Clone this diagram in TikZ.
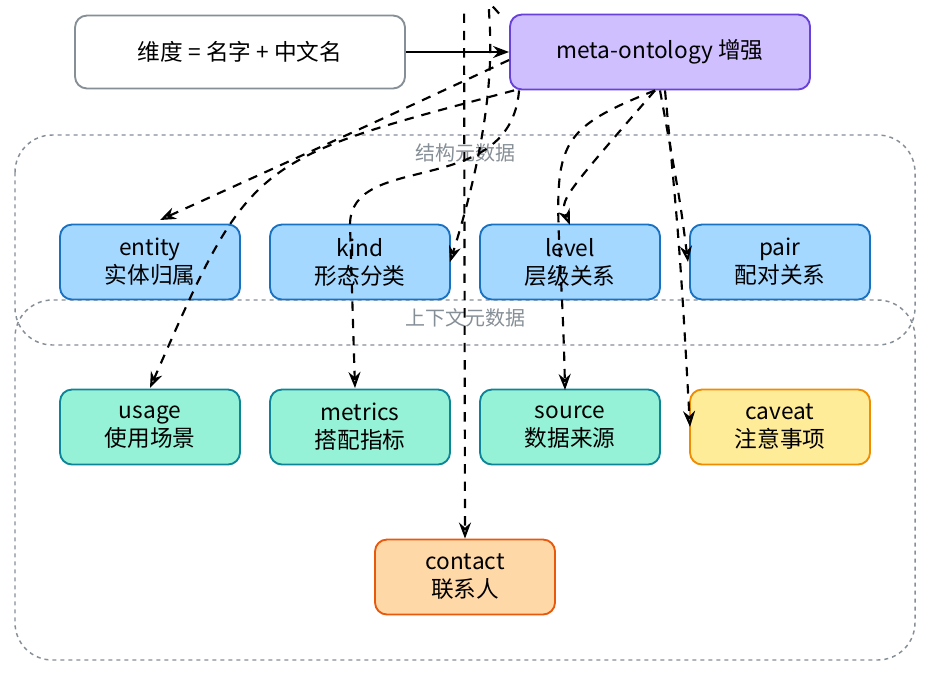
\documentclass[tikz,border=0pt]{standalone}
\usepackage{fontspec}
\setmainfont{Noto Sans CJK SC}
\usetikzlibrary{arrows.meta}
\definecolor{bluef}{HTML}{A5D8FF}\definecolor{bluel}{HTML}{1971C2}
\definecolor{tealf}{HTML}{96F2D7}\definecolor{teall}{HTML}{0C8599}
\definecolor{yelf}{HTML}{FFEC99}\definecolor{yell}{HTML}{F08C00}
\definecolor{oraf}{HTML}{FFD8A8}\definecolor{oral}{HTML}{E8590C}
\definecolor{purf}{HTML}{D0BFFF}\definecolor{purl}{HTML}{6741D9}
\definecolor{grp}{HTML}{868E96}
\tikzset{
 box/.style={rounded corners=9pt,line width=1.4pt,minimum width=180\pgflinewidth,align=center,font=\fontsize{17}{21}\selectfont,inner sep=0pt},
 bb/.style={box,fill=bluef,draw=bluel},
 tb/.style={box,fill=tealf,draw=teall},
 grpbox/.style={draw=grp,dashed,line width=1.1pt,rounded corners=28pt},
 glabel/.style={text=grp,font=\fontsize{15}{18}\selectfont},
 darr/.style={-{Stealth[length=12pt,width=9pt,open]},line width=1.6pt,dashed,dash pattern=on 7pt off 6pt},
}
\begin{document}
\begin{tikzpicture}[x=0.75pt,y=-0.75pt]
\useasboundingbox (0,0) rectangle (930,675);
\draw[grpbox] (15,135) rectangle (915,345);
\draw[grpbox] (15,300) rectangle (915,660);
\node[glabel] (g1) at (465,153) {结构元数据};
\node[glabel] (g2) at (465,318) {上下文元数据};
\tikzset{sz/.style={minimum width=180*0.75pt,minimum height=75*0.75pt}}
\node[box,sz,fill=white,draw=grp,minimum width=330*0.75pt,minimum height=73*0.75pt] (dim) at (240,52) {维度 = 名字 + 中文名};
\node[box,sz,fill=purf,draw=purl,minimum width=300*0.75pt] (meta) at (660,52) {meta-ontology 增强};
\node[bb,sz] (entity) at (150,262) {entity\\实体归属};
\node[bb,sz] (kind) at (360,262) {kind\\形态分类};
\node[bb,sz] (level) at (570,262) {level\\层级关系};
\node[bb,sz] (pair) at (780,262) {pair\\配对关系};
\node[tb,sz] (usage) at (150,427) {usage\\使用场景};
\node[tb,sz] (metrics) at (360,427) {metrics\\搭配指标};
\node[tb,sz] (source) at (570,427) {source\\数据来源};
\node[box,sz,fill=yelf,draw=yell] (caveat) at (780,427) {caveat\\注意事项};
\node[box,sz,fill=oraf,draw=oral] (contact) at (465,577) {contact\\联系人};
\draw[-{Stealth[length=12pt,width=9pt,open]},line width=1.8pt] (dim.east) -- (meta.west);
\draw[darr] ([yshift=-8*0.75pt]meta.west) .. controls (380,120) .. (160,220);
\draw[darr] ([xshift=5*0.75pt]meta.south west) .. controls (250,160) .. (150,388);
\draw[darr] (meta.north west) ++(-10,0) .. controls (470,-20) and (520,40) .. (450,262);
\draw[darr] (meta.south west) ++(10,0) .. controls (510,200) and (350,150) .. (350,225) -- (355,388);
\draw[darr] ([xshift=-45*0.75pt]meta.north west) -- (contact.north);
\draw[darr] ([xshift=-5*0.75pt]meta.south) .. controls (560,200) .. (570,225);
\draw[darr] ([xshift=-5*0.75pt]meta.south) .. controls (530,140) and (560,150) .. (565,390);
\draw[darr] (meta.south) .. controls (680,200) .. (688,262);
\draw[darr] ([xshift=5*0.75pt]meta.south) .. controls (680,250) .. (690,427);
\end{tikzpicture}
\end{document}
